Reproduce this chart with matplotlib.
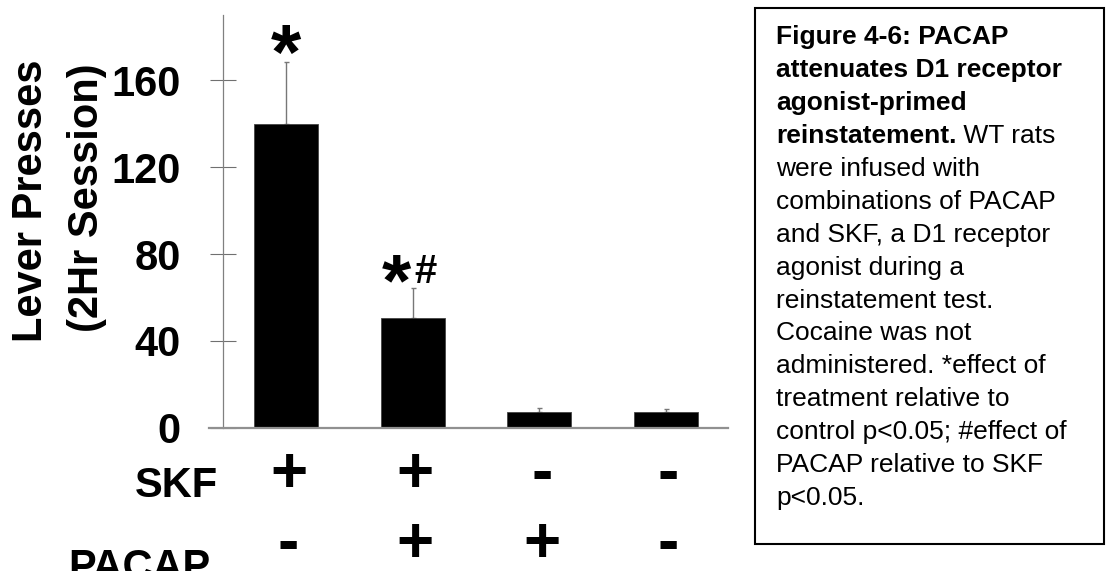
import matplotlib.pyplot as plt
import matplotlib.transforms as mtransforms
from matplotlib.patches import Rectangle

plt.rcParams['font.family'] = ['Liberation Sans', 'DejaVu Sans']

# lever presses per group (mean, upper SEM)
groups = ['SKF', 'SKF+PACAP', 'PACAP', 'Vehicle']
presses = [140, 50.6, 7.4, 7.4]
sem = [28.5, 13.7, 1.5, 1.2]
skf_row = ['+', '+', '-', '-']
pacap_row = ['-', '+', '+', '-']
yticks = [0, 40, 80, 120, 160]

caption_bold = ['Figure 4-6: PACAP', 'attenuates D1 receptor', 'agonist-primed', 'reinstatement.']
caption_tail = ' WT rats'
caption_rest = ['were infused with', 'combinations of PACAP', 'and SKF, a D1 receptor',
                'agonist during a', 'reinstatement test.', 'Cocaine was not',
                'administered. *effect of', 'treatment relative to',
                'control p<0.05; #effect of', 'PACAP relative to SKF', 'p<0.05.']

W, H = 1107, 571
fig = plt.figure(figsize=(W / 100, H / 100), dpi=100)


def fx(px):
    return px / W


def fy(px):
    return 1 - px / H


ax = fig.add_axes([fx(209), fy(427.7), fx(728 - 209), (427.7 - 15.3) / H])
x = list(range(len(groups)))
ax.bar(x, presses, width=0.505, color='black', edgecolor='#444444', linewidth=0.6, zorder=2)
ax.errorbar(x, presses, yerr=[[0] * len(sem), sem], fmt='none', ecolor='#777777',
            elinewidth=1.0, capsize=1.8, capthick=1.0, zorder=1)

ax.set_xlim(-0.608, 3.489)
ax.set_ylim(0, 190)
ax.spines['top'].set_visible(False)
ax.spines['right'].set_visible(False)
ax.spines['left'].set_position(('data', -0.5))
ax.spines['left'].set_color('#808080')
ax.spines['left'].set_linewidth(0.9)
ax.spines['bottom'].set_color('#909090')
ax.spines['bottom'].set_linewidth(1.6)
ax.set_xticks([])
ax.set_yticks(yticks)
ax.tick_params(axis='y', direction='inout', length=19.4, width=0.8, color='#707070',
               pad=20.5, labelsize=30)
for lab in ax.get_yticklabels():
    lab.set_fontweight('bold')

# y-axis title, two centred lines
fig.text(fx(41.7), fy(200.5), 'Lever Presses', rotation=90, rotation_mode='anchor',
         ha='center', va='baseline', fontsize=30, fontweight='bold')
fig.text(fx(98), fy(197.5), '(2Hr Session)', rotation=90, rotation_mode='anchor',
         ha='center', va='baseline', fontsize=30, fontweight='bold')

# treatment rows under the bars
fig.text(fx(218), fy(496.7), 'SKF', ha='right', va='baseline', fontsize=30, fontweight='bold')
fig.text(fx(210), fy(579), 'PACAP', ha='right', va='baseline', fontsize=30, fontweight='bold')
row_tf = mtransforms.blended_transform_factory(ax.transData, fig.transFigure)
for xi, s1, s2 in zip(x, skf_row, pacap_row):
    ax.text(xi + 0.02, fy(492), s1, transform=row_tf, ha='center', va='baseline',
            fontsize=46, fontweight='bold', clip_on=False)
    ax.text(xi + 0.02, fy(562), s2, transform=row_tf, ha='center', va='baseline',
            fontsize=46, fontweight='bold', clip_on=False)

# significance marks
ax.text(x[0], fy(79.4), '*', transform=row_tf, ha='center', va='baseline',
        fontsize=56, fontweight='bold', clip_on=False)
ax.text(x[1] - 0.13, fy(305), '*', transform=row_tf, ha='center', va='baseline',
        fontsize=54, fontweight='bold', clip_on=False)
fig.text(fx(414), fy(283.3), '#', ha='left', va='baseline', fontsize=29, fontweight='bold')

# caption box
fig.add_artist(Rectangle((fx(755), fy(544)), fx(1104 - 755), (544 - 8) / H,
                         transform=fig.transFigure, fill=False, edgecolor='black',
                         linewidth=1.5))
line_h = 32.9
y0 = 44.3
for i, line in enumerate(caption_bold):
    t = fig.text(fx(776), fy(y0 + i * line_h), line, ha='left', va='baseline',
                 fontsize=19, fontweight='bold')
fig.canvas.draw()
bb = t.get_window_extent()
fig.text(bb.x1 / W, fy(y0 + 3 * line_h), caption_tail, ha='left', va='baseline', fontsize=19)
for j, line in enumerate(caption_rest):
    fig.text(fx(776), fy(y0 + (4 + j) * line_h), line, ha='left', va='baseline', fontsize=19)

fig.savefig('out.png', dpi=100)
